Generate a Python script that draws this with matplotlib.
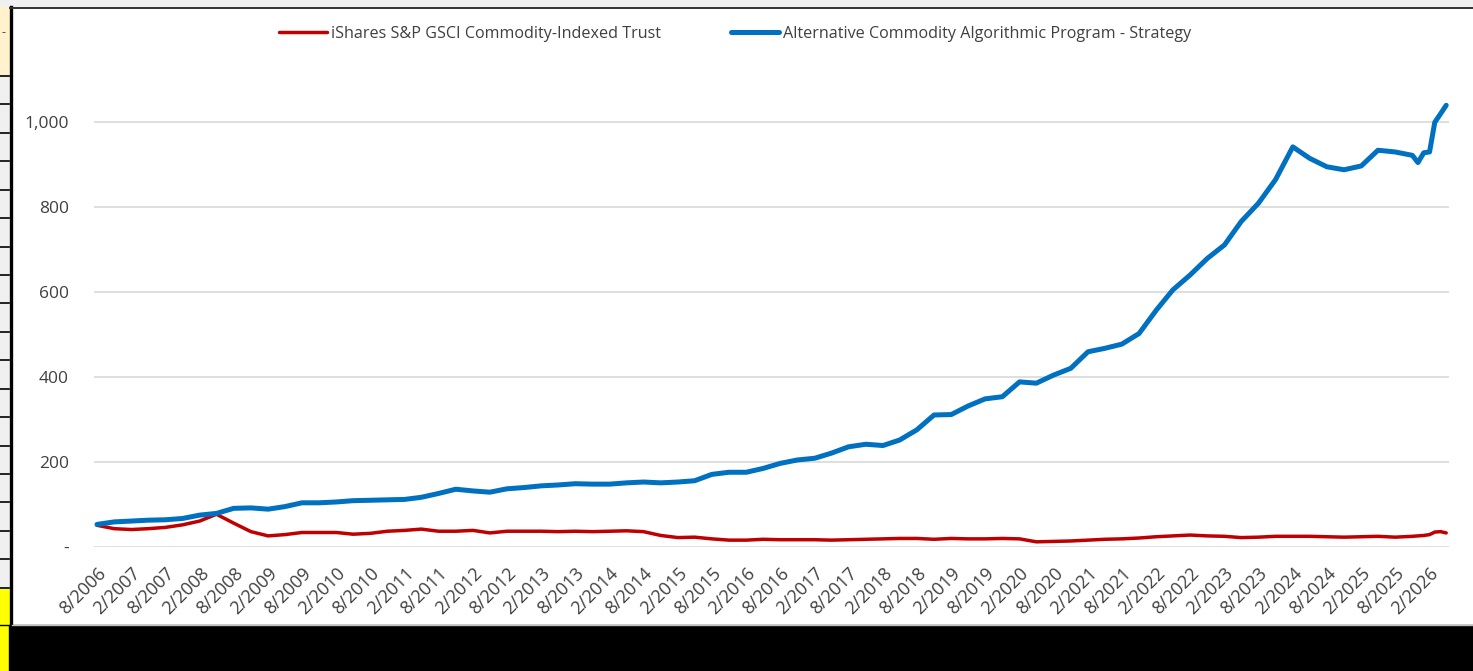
import pandas as pd
import matplotlib.pyplot as plt
from matplotlib.patches import Rectangle
from matplotlib.lines import Line2D
from matplotlib.ticker import FuncFormatter

plt.rcParams['font.family'] = ['Open Sans', 'DejaVu Sans']

# quarterly readings 8/2006 .. 11/2025, then monthly 12/2025 .. 5/2026
dates = list(pd.date_range('2006-08-01', '2025-11-01', freq='3MS')) + \
        list(pd.date_range('2025-12-01', '2026-05-01', freq='MS'))

gsci = [50, 42, 40, 42, 45, 51, 60, 76, 55, 35, 25, 28, 33, 33, 33, 29, 31, 36, 38, 41,
        36, 36, 38, 32, 36, 36, 36, 35, 36, 35, 36, 37, 35, 26, 21, 22, 18, 15, 15, 17,
        16, 16, 16, 15, 16, 17, 18, 19, 19, 17, 19, 18, 18, 19, 18, 11, 12, 13, 15, 17,
        18, 20, 23, 25, 27, 25, 24, 21, 22, 24, 24, 24, 23, 22, 23, 24, 22, 24,
        25, 26, 28, 34, 35, 32]

strategy = [52, 58, 60, 62, 63, 66, 74, 78, 90, 91, 88, 94, 103, 103, 105, 108, 109, 110, 111, 116,
            125, 135, 131, 128, 136, 139, 143, 145, 148, 147, 147, 150, 152, 150, 152, 155, 170, 175, 175, 184,
            196, 204, 208, 220, 235, 241, 238, 251, 275, 310, 311, 331, 348, 353, 388, 385, 404, 420, 459, 467,
            477, 502, 557, 605, 640, 679, 711, 766, 809, 865, 942, 915, 895, 888, 897, 934, 930, 922,
            905, 928, 930, 1000, 1020, 1040]

series_names = ['iShares S&P GSCI Commodity-Indexed Trust',
                'Alternative Commodity Algorithmic Program - Strategy']

tick_dates = pd.date_range('2006-08-01', '2026-02-01', freq='6MS')
tick_labels = [f'{d.month}/{d.year}' for d in tick_dates]

W, H = 1473, 671
fig = plt.figure(figsize=(W / 100, H / 100), dpi=100)


def fx(px):
    return px / W


def fy(py):
    return 1 - py / H


# spreadsheet surroundings
fig.patches.append(Rectangle((0, fy(7)), 1, 7 / H, transform=fig.transFigure, color='#F0F0F0', zorder=0))
fig.patches.append(Rectangle((0, fy(588)), fx(9), (588 - 7) / H, transform=fig.transFigure,
                             color='#F0F0F0', zorder=0))
fig.patches.append(Rectangle((0, fy(76)), fx(9), (76 - 7) / H, transform=fig.transFigure,
                             color='#FFF2CC', zorder=0))
fig.patches.append(Rectangle((0, 0), fx(9), (H - 588) / H, transform=fig.transFigure,
                             color='#FFFF00', zorder=0))
fig.patches.append(Rectangle((fx(9), 0), 1, (H - 625) / H, transform=fig.transFigure,
                             color='black', zorder=0))
for k in range(19):
    yy = fy(76 + 28.43 * k)
    fig.lines.append(Line2D([0, fx(9)], [yy, yy], transform=fig.transFigure, color='black', lw=1.2))
fig.lines.append(Line2D([0, fx(9)], [fy(625), fy(625)], transform=fig.transFigure, color='black', lw=1))
fig.lines.append(Line2D([fx(10.5), fx(10.5)], [fy(625), fy(7)], transform=fig.transFigure,
                        color='black', lw=2.4))
fig.lines.append(Line2D([fx(10), 1], [fy(7.5), fy(7.5)], transform=fig.transFigure,
                        color='#333333', lw=1.4))
fig.lines.append(Line2D([fx(12), 1], [fy(624.5), fy(624.5)], transform=fig.transFigure,
                        color='#BFBFBF', lw=1))
fig.text(fx(1), fy(33), '-', fontsize=9, color='#404040', va='center', ha='left')

ax = fig.add_axes([fx(94), fy(546.5), fx(1449) - fx(94), (546.5 - 37.4) / H])
ax.plot(dates, gsci, color='#C00000', lw=2.5, solid_capstyle='round', label=series_names[0], zorder=3)
ax.plot(dates, strategy, color='#0070C0', lw=3.6, solid_capstyle='round', label=series_names[1], zorder=3)

ax.set_xlim(pd.Timestamp('2006-07-16'), pd.Timestamp('2026-05-16'))
ax.set_ylim(0, 1200)
ax.set_yticks(range(0, 1001, 200))
ax.yaxis.set_major_formatter(FuncFormatter(lambda v, p: '-' if v == 0 else f'{int(v):,}'))
ax.grid(axis='y', color='#D9D9D9', lw=1.2)
ax.set_axisbelow(True)
for s in ax.spines.values():
    s.set_visible(False)

ax.set_xticks(tick_dates)
ax.set_xticklabels(tick_labels, rotation=45, ha='right', va='top', rotation_mode='anchor')
ax.tick_params(axis='x', length=0, pad=13, labelsize=13, labelcolor='#404040')
ax.tick_params(axis='y', length=0, pad=18, labelsize=12.5, labelcolor='#404040')

fig.legend(loc='center', bbox_to_anchor=(fx(735), fy(34)), ncol=2, frameon=False, fontsize=11.6,
           handlelength=3.0, handletextpad=0.25, columnspacing=4.3, labelcolor='#404040')

fig.savefig('out.png', dpi=100, facecolor='white')
